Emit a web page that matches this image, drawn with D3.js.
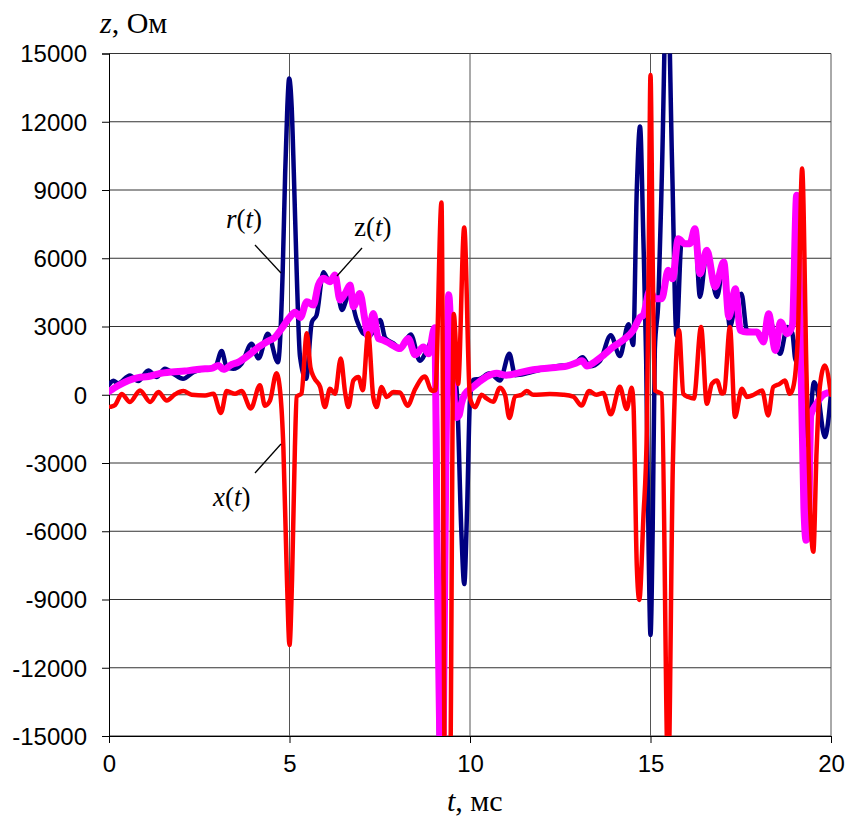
<!DOCTYPE html>
<html>
<head>
<meta charset="utf-8">
<script src="https://cdn.jsdelivr.net/npm/d3@7"></script>
<style>
  body { margin: 0; background: #fff; }
</style>
</head>
<body>
<div id="chart"></div>
<script>
// r(t) - active part
var rT = [0, 0.12, 0.25, 0.58, 0.81, 1.09, 1.32, 1.55, 1.8, 2.05, 2.35, 2.66, 2.94, 3.12, 3.26, 3.44, 3.67, 3.95, 4.14, 4.4, 4.68,
          4.81, 4.88, 4.94, 4.99, 5.06, 5.12, 5.2, 5.29, 5.46, 5.62, 5.75, 5.94, 6.1, 6.26, 6.45, 6.65, 6.86, 7.04, 7.22, 7.51, 7.65,
          7.88, 8.06, 8.36, 8.61, 8.84, 8.98, 9.06, 9.16, 9.3, 9.4, 9.52, 9.64, 9.76, 9.84, 9.92, 10, 10.09, 10.27, 10.55, 10.83,
          11.09, 11.25, 11.57, 11.94, 12.4, 12.86, 13.12, 13.32, 13.6, 13.9, 14.15, 14.39, 14.52, 14.62, 14.71, 14.8, 14.88, 14.95,
          15, 15.06, 15.12, 15.22, 15.32, 15.46, 15.6, 15.72, 15.86, 15.95, 16.09, 16.23, 16.37, 16.56, 16.84, 17.03, 17.2, 17.35,
          17.52, 17.67, 17.95, 18.13, 18.27, 18.59, 18.79, 18.93, 19.02, 19.1, 19.2, 19.35, 19.53, 19.62, 19.83, 20];
var rV = [450, 620, 500, 850, 600, 1070, 780, 1140, 900, 700, 1000, 1140, 1220, 1920, 1220, 1140, 1360, 2240, 1600, 2680, 1430,
          5360, 9740, 12650, 13900, 12650, 9740, 5360, 1700, 700, 3200, 3500, 5390, 5000, 5250, 3730, 4400, 3300, 2700, 2600, 3290, 2500,
          2260, 2050, 2650, 1500, 2080, 2500, 1500, -17000, -2000, 4200, 1500, 0, -6000, -8320, -5000, -200, 650, 700, 940, 630,
          1800, 860, 940, 1100, 1250, 1330, 1650, 1250, 1490, 2620, 1700, 3100, 2190, 9000, 11790, 7000, 1500, -7000,
          -10560, -6000, 2000, 4200, 10000, 19000, 10000, 2600, 6700, 6640, 6640, 7300, 4300, 6300, 4300, 5800, 2980, 4000,
          4440, 2830, 2760, 2500, 3420, 1800, 2980, 2700, 1500, 2500, 500, -2200, 550, 200, -1860, 50];

// z(t)
var zT = [0, 0.26, 0.54, 0.81, 1.09, 1.37, 1.74, 2.1, 2.38, 2.66, 2.84, 3.03, 3.17, 3.4, 3.58, 3.86, 4.14, 4.41, 4.6, 4.78,
          5.01, 5.15, 5.3, 5.48, 5.66, 5.8, 5.94, 6.12, 6.26, 6.4, 6.54, 6.68, 6.77, 6.95, 7.09, 7.18, 7.32, 7.46, 7.6, 7.78,
          8.06, 8.29, 8.48, 8.71, 8.85, 9.02, 9.1, 9.22, 9.34, 9.41, 9.5, 9.62, 9.7, 9.76, 9.86, 10.05, 10.24, 10.46, 10.74,
          11, 11.29, 11.75, 12.2, 12.68, 12.96, 13.1, 13.24, 13.42, 13.69, 13.97, 14.25, 14.52, 14.71, 14.8, 14.98, 15.12,
          15.31, 15.49, 15.61, 15.77, 15.95, 16.09, 16.23, 16.37, 16.56, 16.79, 17.03, 17.17, 17.35, 17.49, 17.67, 17.95,
          18.13, 18.27, 18.46, 18.6, 18.79, 18.93, 19.05, 19.15, 19.25, 19.31, 19.37, 19.44, 19.58, 19.75, 19.9, 20];
var zV = [150, 410, 630, 750, 800, 920, 1000, 1040, 1100, 1140, 1160, 1290, 1120, 1330, 1430, 1730, 2090, 2360, 2530, 2900,
          3410, 3630, 3400, 4090, 3940, 4820, 5120, 4970, 5260, 4160, 4450, 4820, 3870, 4450, 3280, 2540, 3570, 2470, 2400, 2250,
          2030, 2470, 1760, 2100, 1800, 2950, -8000, -18000, -2000, 4400, 1500, -1000, -900, -410, 30, 300, 550, 800, 940,
          860, 940, 1100, 1180, 1260, 1410, 1490, 1260, 1410, 1730, 2110, 2410, 2830, 3400, 3500, 4590, 4220,
          4220, 5470, 5100, 6860, 6640, 6640, 7300, 5320, 6350, 4740, 5830, 3420, 4660, 2830, 2760, 2760,
          2320, 3560, 1950, 3200, 2680, 3050, 8770, 3000, -5000, -6400, -6200, -900, -450, -50, 80, 100];

// x(t) - reactive part
var xT = [0.05, 0.17, 0.35, 0.58, 0.86, 1.14, 1.37, 1.6, 1.83, 2.06, 2.29, 2.66, 2.89, 3.1, 3.26, 3.49, 3.67, 3.93, 4.18, 4.32,
          4.46, 4.64, 4.75, 4.83, 4.93, 5, 5.07, 5.15, 5.2, 5.33, 5.48, 5.58, 5.68, 5.85, 5.98, 6.12, 6.26, 6.42, 6.54, 6.63,
          6.77, 6.91, 7.03, 7.18, 7.32, 7.41, 7.55, 7.69, 7.88, 8.06, 8.27, 8.48, 8.75, 8.94, 9.04, 9.21, 9.31, 9.44, 9.55,
          9.67, 9.84, 10, 10.14, 10.32, 10.46, 10.64, 10.83, 10.97, 11.09, 11.25, 11.43, 11.57, 11.75, 12.21, 12.58, 12.86,
          13.09, 13.3, 13.5, 13.69, 13.9, 14.15, 14.34, 14.48, 14.53, 14.62, 14.69, 14.8, 14.9, 14.95, 15, 15.06, 15.12,
          15.31, 15.49, 15.62, 15.79, 15.91, 16.05, 16.2, 16.4, 16.56, 16.7, 16.84, 16.98, 17.04, 17.2, 17.34, 17.53, 17.67,
          17.86, 18.09, 18.26, 18.4, 18.58, 18.72, 18.86, 18.95, 19.08, 19.2, 19.32, 19.42, 19.51, 19.6, 19.69, 19.83, 20];
var xV = [-530, -450, 30, -320, 190, -320, 120, -250, 20, 160, 0, -30, 40, -800, 160, 40, 160, -600, 420, -480,
          -250, 950, 0, -2300, -8150, -11000, -8150, -2300, -80, 50, 2700, 1200, 750, 340, -540, 260, 40, 1590, 100, -540,
          630, 780, 200, 2700, -100, -540, 340, -100, 120, 100, -480, 250, 800, 180, 200, 8450, -18000, -18000, 3550,
          470, 7350, -160, -550, 0, -160, -310, 310, 0, -1020, -80, 0, 160, 0, 30, 0, -80,
          -470, 160, 0, 80, -860, 350, -630, 310, -500, -7500, -9020, -5500, -1500, 6000, 14050, 6000, 190,
          40, -17000, -3000, 2830, 40, -100, -170, 2980, -400, 480, 630, 50, 100, 2980, -980, 260, -100,
          0, 190, -910, 340, 480, 630, 40, 300, 2500, 9940, 1000, -5000, -6900, -2500, 340, 1290, 0];

var xTicks = [0, 5, 10, 15, 20];
var yTicks = [-15000, -12000, -9000, -6000, -3000, 0, 3000, 6000, 9000, 12000, 15000];

var width = 847;
var height = 816;
var plotLeft = 109, plotRight = 831, plotTop = 53.5, plotBottom = 736;

var svg = d3.select("#chart")
            .append("svg")
            .attr("width", width)
            .attr("height", height);

var x = d3.scaleLinear().domain([0, 20]).range([plotLeft, plotRight]);
var y = d3.scaleLinear().domain([-15000, 15000]).range([plotBottom, plotTop]);

// grid
svg.append("g")
   .selectAll("line")
   .data(yTicks)
   .enter()
   .append("line")
   .attr("x1", plotLeft).attr("x2", plotRight)
   .attr("y1", function(d) { return y(d); })
   .attr("y2", function(d) { return y(d); })
   .attr("stroke", "#333")
   .attr("stroke-width", 1);

svg.append("g")
   .selectAll("line")
   .data(xTicks.slice(1))
   .enter()
   .append("line")
   .attr("y1", plotTop).attr("y2", plotBottom)
   .attr("x1", function(d) { return x(d); })
   .attr("x2", function(d) { return x(d); })
   .attr("stroke", "#555")
   .attr("stroke-width", 1);

// axes (plain hyphen for negatives, like the original)
var plain = function(d) { return String(d); };
var yAxis = d3.axisLeft(y).tickValues(yTicks).tickSize(7).tickPadding(15).tickFormat(plain);
var xAxis = d3.axisBottom(x).tickValues(xTicks).tickSize(7).tickPadding(12).tickFormat(plain);

var gy = svg.append("g").attr("transform", "translate(" + plotLeft + ",0)").call(yAxis);
var gx = svg.append("g").attr("transform", "translate(0," + plotBottom + ")").call(xAxis);

[gx, gy].forEach(function(g) {
  g.select(".domain").attr("stroke", "#000");
  g.selectAll(".tick line").attr("stroke", "#000");
  g.selectAll(".tick text")
   .attr("font-family", "Liberation Sans, Arial, sans-serif")
   .attr("font-size", 24)
   .attr("fill", "#000");
});
gy.selectAll(".tick text").attr("dy", "0.35em");
gx.selectAll(".tick text").attr("dy", "0.71em");

// lines
svg.append("clipPath").attr("id", "plot")
   .append("rect")
   .attr("x", plotLeft).attr("y", plotTop)
   .attr("width", plotRight - plotLeft).attr("height", plotBottom - plotTop);

var line = d3.line()
             .x(function(d) { return x(d[0]); })
             .y(function(d) { return y(d[1]); })
             .curve(d3.curveMonotoneX);

var series = [
  { t: rT, v: rV, color: "#000080", w: 4.5 },
  { t: zT, v: zV, color: "#ff00ff", w: 7 },
  { t: xT, v: xV, color: "#ff0000", w: 4.5 }
];

var plot = svg.append("g").attr("clip-path", "url(#plot)");
series.forEach(function(s) {
  plot.append("path")
      .datum(d3.zip(s.t, s.v))
      .attr("d", line)
      .attr("fill", "none")
      .attr("stroke", s.color)
      .attr("stroke-width", s.w)
      .attr("stroke-linejoin", "round")
      .attr("stroke-linecap", "round");
});

// labels on curves with leader lines
var serif = "Liberation Serif, Times New Roman, serif";
var labels = [
  { x: 226, y: 228, a: "r", italicA: true, lx1: 255, ly1: 245, lx2: 281, ly2: 273 },
  { x: 354, y: 236, a: "z", italicA: false, lx1: 362, ly1: 248, lx2: 337, ly2: 276 },
  { x: 213, y: 506, a: "x", italicA: true, lx1: 255, ly1: 473, lx2: 281, ly2: 444 }
];

labels.forEach(function(l) {
  svg.append("line")
     .attr("x1", l.lx1).attr("y1", l.ly1)
     .attr("x2", l.lx2).attr("y2", l.ly2)
     .attr("stroke", "#000")
     .attr("stroke-width", 1.3);
  var t = svg.append("text")
             .attr("x", l.x).attr("y", l.y)
             .attr("font-family", serif)
             .attr("font-size", 27);
  t.append("tspan").attr("font-style", l.italicA ? "italic" : "normal").text(l.a);
  t.append("tspan").text("(");
  t.append("tspan").attr("font-style", "italic").text("t");
  t.append("tspan").text(")");
});

// axis titles
var yt = svg.append("text").attr("x", 100).attr("y", 33)
            .attr("font-family", serif).attr("font-size", 30);
yt.append("tspan").attr("font-style", "italic").text("z");
yt.append("tspan").text(", Ом");

var xt = svg.append("text").attr("x", 447).attr("y", 811)
            .attr("font-family", serif).attr("font-size", 30);
xt.append("tspan").attr("font-style", "italic").text("t");
xt.append("tspan").text(", мс");
</script>
</body>
</html>
